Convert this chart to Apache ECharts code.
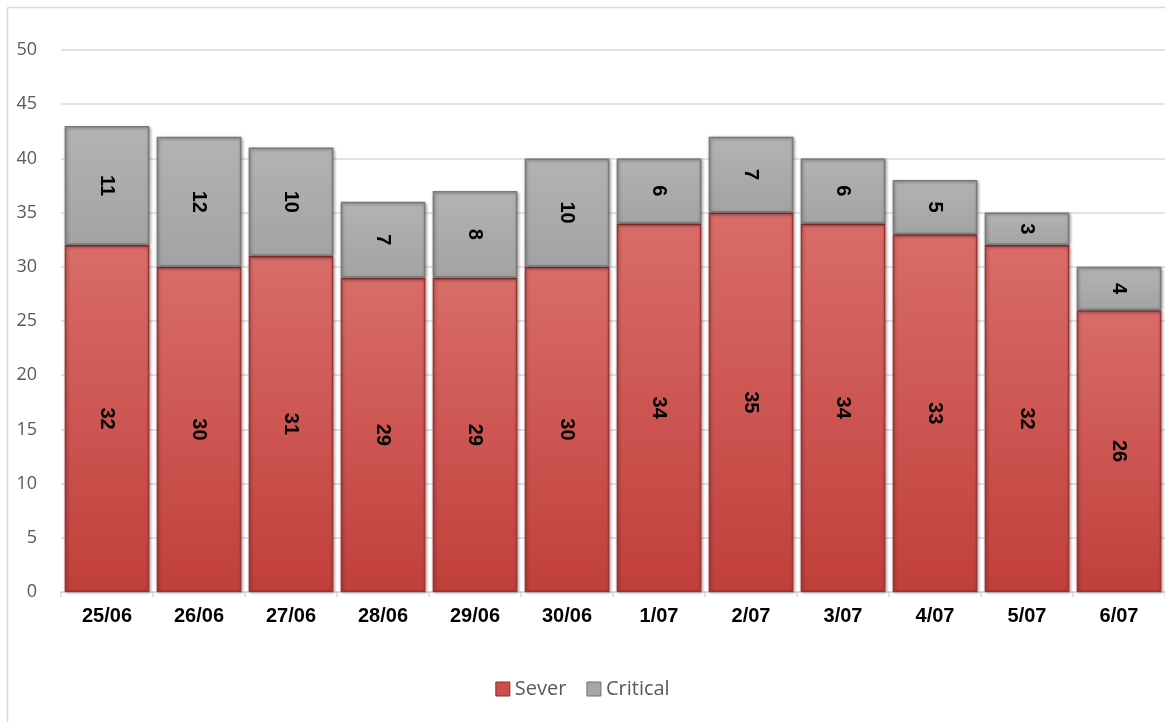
<!DOCTYPE html>
<html>
<head>
<meta charset="utf-8">
<script src="https://cdn.jsdelivr.net/npm/echarts@6/dist/echarts.min.js"></script>
<style>html,body{margin:0;padding:0;background:#fff;overflow:hidden}#c{width:1165px;height:722px}</style>
</head>
<body>
<div id="c"></div>
<script>
const categories = ['25/06','26/06','27/06','28/06','29/06','30/06','1/07','2/07','3/07','4/07','5/07','6/07'];
const sever = [32,30,31,29,29,30,34,35,34,33,32,26];
const critical = [11,12,10,7,8,10,6,7,6,5,3,4];
const yTicks = {min:0, max:50, interval:5};

const chart = echarts.init(document.getElementById('c'));
const redFill = new echarts.graphic.LinearGradient(0,0,0,1,[
  {offset:0,color:'#d96c69'},{offset:1,color:'#c13f3b'}]);
const grayFill = new echarts.graphic.LinearGradient(0,0,0,1,[
  {offset:0,color:'#b3b3b3'},{offset:1,color:'#a3a3a3'}]);
const labelStyle = {show:true, position:'inside', rotate:-90, color:'#000', fontWeight:'bold',
  fontSize:20, fontFamily:'Liberation Sans, Arial, sans-serif'};
chart.setOption({
  animation:false,
  graphic:[
    {type:'line', shape:{x1:7.5,y1:7.5,x2:1165,y2:7.5}, style:{stroke:'#d9d9d9',lineWidth:1.5}, silent:true},
    {type:'line', shape:{x1:7.5,y1:7.5,x2:7.5,y2:722}, style:{stroke:'#d9d9d9',lineWidth:1.5}, silent:true}
  ],
  grid:{left:61, right:-9, top:50, bottom:130, containLabel:false},
  legend:{bottom:18, left:'center', itemWidth:14, itemHeight:14, itemGap:20,
    textStyle:{fontSize:20, color:'#595959', fontFamily:'Open Sans, Noto Sans, sans-serif'},
    data:[{name:'Sever', icon:'rect', itemStyle:{color:'#c9504c', borderColor:'#8e2a27', borderWidth:1}},
          {name:'Critical', icon:'rect', itemStyle:{color:'#a6a6a6', borderColor:'#707070', borderWidth:1}}]},
  xAxis:{type:'category', data:categories,
    axisLine:{lineStyle:{color:'#d9d9d9', width:1.5}},
    axisTick:{show:true, length:5, lineStyle:{color:'#d9d9d9', width:1.5}},
    axisLabel:{color:'#000', fontWeight:'bold', fontSize:20, margin:14, fontFamily:'Liberation Sans, Arial, sans-serif'}},
  yAxis:{type:'value', min:yTicks.min, max:yTicks.max, interval:yTicks.interval,
    axisLine:{show:false}, axisTick:{show:false},
    splitLine:{lineStyle:{color:'#d9d9d9', width:1.5}},
    axisLabel:{color:'#595959', fontSize:18, margin:24, fontFamily:'Open Sans, Noto Sans, sans-serif'}},
  series:[
    {name:'Sever', type:'bar', stack:'a', data:sever, barCategoryGap:'8%',
      itemStyle:{color:redFill, borderColor:'#9e3330', borderWidth:1.5,
        shadowBlur:3, shadowColor:'rgba(0,0,0,0.35)', shadowOffsetX:1, shadowOffsetY:1},
      label:labelStyle},
    {name:'Critical', type:'bar', stack:'a', data:critical, barCategoryGap:'8%',
      itemStyle:{color:grayFill, borderColor:'#7a7a7a', borderWidth:1.5,
        shadowBlur:3, shadowColor:'rgba(0,0,0,0.35)', shadowOffsetX:1, shadowOffsetY:1},
      label:labelStyle}
  ]
});
</script>
</body>
</html>
